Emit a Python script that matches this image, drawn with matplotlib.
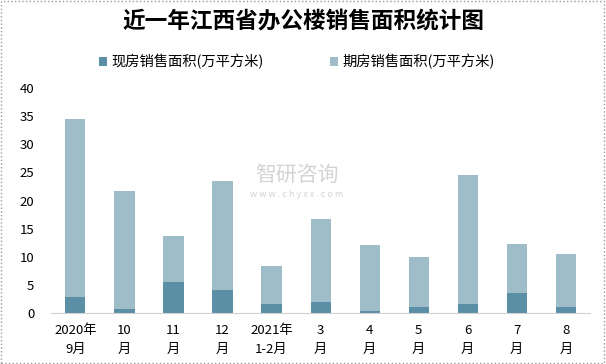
import numpy as np
import matplotlib
matplotlib.use("Agg")
import matplotlib.pyplot as plt
from matplotlib.patches import Rectangle

plt.rcParams['font.family'] = ['Noto Sans CJK SC', 'DejaVu Sans']

# --- data ---
categories = ["2020年\n9月", "10\n月", "11\n月", "12\n月", "2021年\n1-2月",
              "3\n月", "4\n月", "5\n月", "6\n月", "7\n月", "8\n月"]
xianfang = [2.9, 0.7, 5.5, 4.1, 1.6, 1.9, 0.35, 1.0, 1.6, 3.6, 1.0]
totals = [34.5, 21.7, 13.7, 23.5, 8.4, 16.7, 12.1, 10.0, 24.5, 12.3, 10.5]
qifang = [t - x for t, x in zip(totals, xianfang)]

dark = "#5b8fa6"
light = "#9fbcc9"

fig = plt.figure(figsize=(6.06, 3.64), dpi=100)
ax = fig.add_axes([0.084, 0.14, 0.89, 0.618])

x = np.arange(len(categories))
ax.bar(x, xianfang, width=0.41, color=dark, label="现房销售面积(万平方米)")
ax.bar(x, qifang, width=0.41, bottom=xianfang, color=light, label="期房销售面积(万平方米)")

ax.set_ylim(0, 40)
ax.set_yticks(range(0, 41, 5))
ax.set_xlim(-0.5, len(categories) - 0.5)
ax.set_xticks(x)
ax.set_xticklabels(categories, fontsize=9.5, linespacing=1.55)
ax.tick_params(axis='y', labelsize=9.5, length=0, pad=12)
ax.tick_params(axis='x', length=0, pad=8)
for s in ["top", "right", "left"]:
    ax.spines[s].set_visible(False)
ax.spines["bottom"].set_color("#d0d0d0")

fig.text(0.5, 0.94, "近一年江西省办公楼销售面积统计图", ha="center", va="center",
         fontsize=16.3, fontweight="bold")
fig.legend(loc="center", bbox_to_anchor=(0.49, 0.83), ncol=2, frameon=False,
           fontsize=10.3, handlelength=0.6, handleheight=0.6, columnspacing=4.6,
           handletextpad=0.3)

# watermark
fig.text(0.49, 0.52, "智研咨询", ha="center", va="center", fontsize=15,
         color="#c8c8c8", alpha=0.8)
fig.text(0.49, 0.465, "w w w . c h y x x . c o m", ha="center", va="center",
         fontsize=6.5, color="#c8c8c8", alpha=0.8)

fig.patches.append(Rectangle((0.002, 0.003), 0.995, 0.993, transform=fig.transFigure,
                             fill=False, edgecolor="#999999", linestyle=":", linewidth=1))

fig.savefig("out.png", dpi=100)
